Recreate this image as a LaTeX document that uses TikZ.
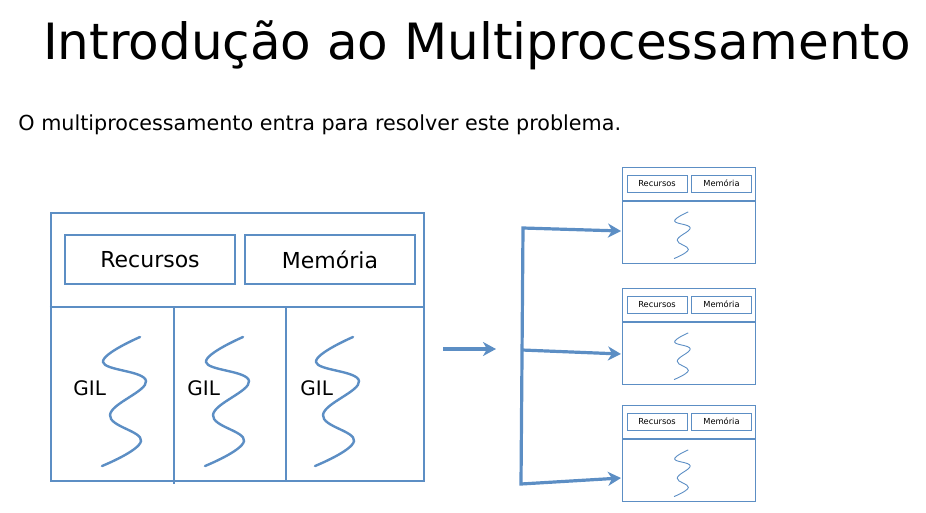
\documentclass[tikz,border=0pt]{standalone}
\usepackage{fontspec}
\setmainfont{DejaVu Sans}
\usetikzlibrary{arrows.meta, positioning, calc}
\definecolor{lineblue}{RGB}{92,142,196}

\begin{document}
\begin{tikzpicture}[x=1pt, y=-1pt, >={Stealth[length=13pt,width=14pt,inset=4pt]}, thick]
	% Define styles
	\tikzstyle{frame} = [draw=lineblue, line width=2.6pt, rectangle, inner sep=0pt, minimum width=373pt, minimum height=268pt]
	\tikzstyle{slot} = [draw=lineblue, line width=2.3pt, rectangle, minimum width=170pt, minimum height=49pt, font=\fontsize{22}{24}\selectfont]
	\tikzstyle{miniframe} = [draw=lineblue, line width=1.1pt, rectangle, inner sep=0pt, minimum width=133pt, minimum height=96pt]
	\tikzstyle{minislot} = [draw=lineblue, line width=1pt, rectangle, inner sep=0pt, minimum width=60pt, minimum height=17pt, font=\fontsize{8.3}{9}\selectfont]
	\tikzstyle{line} = [draw=lineblue, line width=3.2pt, ->]
	\tikzstyle{divider} = [draw=lineblue, line width=2.6pt]
	\tikzset{thread/.pic={\draw[lineblue, line cap=round] plot[smooth, tension=0.7] coordinates {(0,0) (-37,25) (6,44) (-30,78) (1,104) (-38,129)};}}

	\useasboundingbox (0,0) rectangle (926,512);

	% Title and subtitle
	\node [anchor=base, font=\fontsize{50}{56}\selectfont, inner sep=0pt] (title) at (477,59) {Introdução ao Multiprocessamento};
	\node [anchor=base west, font=\fontsize{20.7}{24}\selectfont, inner sep=0pt] (intro) at (18,130) {O multiprocessamento entra para resolver este problema.};

	% Single process with GIL
	\node [frame] (proc) at (237.5,347) {};
	\node [slot] (res) at (150,259.5) {Recursos};
	\node [slot] (mem) at (330,259.5) {Memória};
	\draw [divider] (proc.west |- 0,307) -- (proc.east |- 0,307);
	\draw [divider] (174,307) -- (174,484);
	\draw [divider] (286,307) -- (286,482);
	\foreach \i/\x/\g in {1/140/73, 2/243/187, 3/353/300} {
		\pic [line width=2.4pt] at (\x,337) {thread};
		\node [font=\fontsize{20}{22}\selectfont, anchor=base west, inner sep=0pt] (gil\i) at (\g,395) {GIL};
	}

	% Split arrow
	\coordinate (split) at (443,349);
	\coordinate (splitend) at (496,349);
	\draw [line] (split) -- (splitend);

	% Several processes
	\foreach \i/\t/\a in {1/167/231, 2/288/354, 3/405/478} {
		\node [miniframe, anchor=north west] (box\i) at (622,\t) {};
		\draw [lineblue, line width=1.1pt] (box\i.west |- 0,\t+34) -- (box\i.east |- 0,\t+34);
		\node [minislot] (res\i) at (657,\t+16.5) {Recursos};
		\node [minislot] (mem\i) at (721.5,\t+16.5) {Memória};
		\pic [line width=0.9pt, scale=0.36] at (688,\t+45) {thread};
		\coordinate (tip\i) at (621,\a);
	}

	% Branching connectors
	\coordinate (spinetop) at (523,228);
	\coordinate (spinemid) at (522,350);
	\coordinate (spinebot) at (521,484);
	\draw [line, <->] (tip1) -- (spinetop) -- (spinebot) -- (tip3);
	\draw [line] (spinemid) -- (tip2);
\end{tikzpicture}
\end{document}
